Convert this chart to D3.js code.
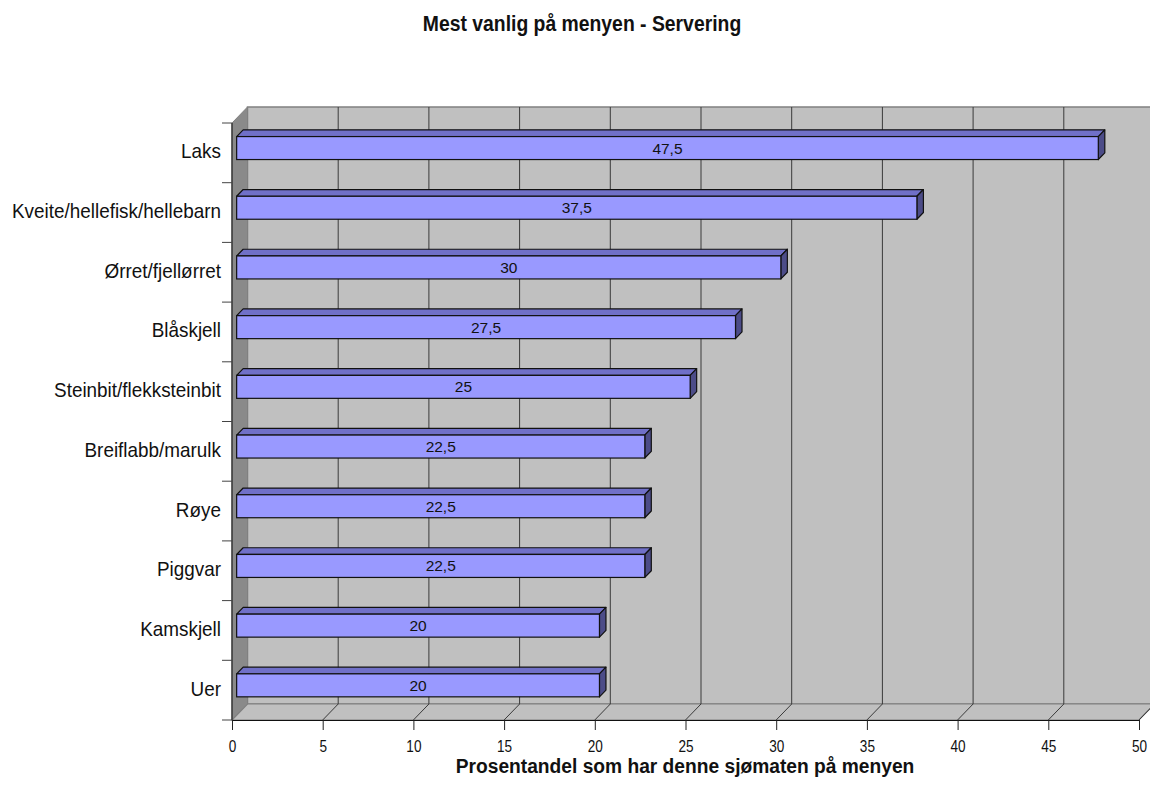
<!DOCTYPE html>
<html>
<head>
<meta charset="utf-8">
<script src="https://cdn.jsdelivr.net/npm/d3@7"></script>
<style>
  body { margin: 0; background: #fff; }
  svg text { font-family: "Liberation Sans", Arial, sans-serif; fill: #111; }
</style>
</head>
<body>
<svg id="chart" width="1150" height="805"></svg>
<script>
// Seafood types and share of menus (%)
const categories = [
  "Laks", "Kveite/hellefisk/hellebarn", "Ørret/fjellørret", "Blåskjell",
  "Steinbit/flekksteinbit", "Breiflabb/marulk", "Røye", "Piggvar", "Kamskjell", "Uer"
];
const values = [47.5, 37.5, 30, 27.5, 25, 22.5, 22.5, 22.5, 20, 20];
const tickValues = [0, 5, 10, 15, 20, 25, 30, 35, 40, 45, 50];

const titleText = "Mest vanlig på menyen - Servering";
const xTitleText = "Prosentandel som har denne sjømaten på menyen";

const svg = d3.select("#chart");

// front plane geometry and 3D depth offset
const plotLeft = 232, plotRight = 1139, plotTop = 123, plotBottom = 720;
const depthX = 15.5, depthY = -16;

const x = d3.scaleLinear().domain([0, 50]).range([plotLeft, plotRight]);
const y = d3.scaleBand().domain(categories).range([plotTop, plotBottom]).padding(0);

const fmt = v => String(v).replace(".", ",");

// Title (slightly condensed type)
svg.append("text")
  .attr("transform", "translate(582,31) scale(0.88,1)")
  .attr("text-anchor", "middle")
  .attr("font-size", 22).attr("font-weight", "bold")
  .text(titleText);

const g = svg.append("g");

// back wall
g.append("rect")
  .attr("x", plotLeft + depthX).attr("y", plotTop + depthY)
  .attr("width", plotRight - plotLeft).attr("height", plotBottom - plotTop)
  .attr("fill", "#c0c0c0").attr("stroke", "#808080").attr("stroke-width", 1.5);

// side wall
g.append("path")
  .attr("d", `M${plotLeft},${plotTop} L${plotLeft + depthX},${plotTop + depthY} L${plotLeft + depthX},${plotBottom + depthY} L${plotLeft},${plotBottom} Z`)
  .attr("fill", "#8a8a8a").attr("stroke", "#808080").attr("stroke-width", 1);

// floor
g.append("path")
  .attr("d", `M${plotLeft},${plotBottom} L${plotLeft + depthX},${plotBottom + depthY} L${plotRight + depthX},${plotBottom + depthY} L${plotRight},${plotBottom} Z`)
  .attr("fill", "#c0c0c0").attr("stroke", "#808080").attr("stroke-width", 1.2);

// gridlines on back wall and floor
tickValues.filter(t => t > 0).forEach(t => {
  const bx = x(t) + depthX;
  g.append("line")
    .attr("x1", bx).attr("x2", bx)
    .attr("y1", plotTop + depthY).attr("y2", plotBottom + depthY)
    .attr("stroke", "#3a3a3a").attr("stroke-width", 1);
  g.append("line")
    .attr("x1", bx).attr("y1", plotBottom + depthY)
    .attr("x2", x(t)).attr("y2", plotBottom)
    .attr("stroke", "#3a3a3a").attr("stroke-width", 1);
});

// front edge of the side wall
g.append("line").attr("x1", plotLeft).attr("x2", plotLeft).attr("y1", plotTop).attr("y2", plotBottom)
  .attr("stroke", "#222").attr("stroke-width", 1.2);

// bars (3D boxes)
const d0 = 0.3, d1 = 0.72;               // depth of bar front and back faces
const barH = y.bandwidth() * 0.385;

const bars = g.append("g").selectAll("g").data(categories).enter().append("g");
bars.each(function(c, i) {
  const v = values[i];
  const cy = y(c) + y.bandwidth() / 2;
  const fx0 = x(0) + d0 * depthX, fx1 = x(v) + d0 * depthX;
  const fy0 = cy - barH / 2 + d0 * depthY, fy1 = cy + barH / 2 + d0 * depthY;
  const ox = (d1 - d0) * depthX, oy = (d1 - d0) * depthY;
  const sel = d3.select(this);
  // top face
  sel.append("path")
    .attr("d", `M${fx0},${fy0} L${fx0 + ox},${fy0 + oy} L${fx1 + ox},${fy0 + oy} L${fx1},${fy0} Z`)
    .attr("fill", "#7070c8").attr("stroke", "#111").attr("stroke-width", 1.2).attr("stroke-linejoin", "round");
  // side face
  sel.append("path")
    .attr("d", `M${fx1},${fy0} L${fx1 + ox},${fy0 + oy} L${fx1 + ox},${fy1 + oy} L${fx1},${fy1} Z`)
    .attr("fill", "#4c4c88").attr("stroke", "#111").attr("stroke-width", 1.2).attr("stroke-linejoin", "round");
  // front face
  sel.append("rect")
    .attr("x", fx0).attr("y", fy0).attr("width", fx1 - fx0).attr("height", fy1 - fy0)
    .attr("fill", "#9999ff").attr("stroke", "#111").attr("stroke-width", 1.2);
  // value label
  sel.append("text")
    .attr("x", (fx0 + fx1) / 2).attr("y", (fy0 + fy1) / 2 + 5.5)
    .attr("text-anchor", "middle").attr("font-size", 15.5)
    .text(fmt(v));
});

// x axis
const xAxis = d3.axisBottom(x).tickValues(tickValues).tickSize(10).tickPadding(10)
  .tickFormat(d => fmt(d));
const xg = svg.append("g").attr("transform", `translate(0,${plotBottom})`).call(xAxis);
xg.select(".domain").attr("stroke", "#111").attr("stroke-width", 1.2)
  .attr("d", `M${plotLeft},0.5H${plotRight}`);
xg.selectAll(".tick line").attr("stroke", "#222");
xg.selectAll(".tick text")
  .attr("font-size", 17).attr("fill", "#111")
  .attr("transform", "scale(0.8,1)")
  .attr("font-family", "'Liberation Sans', Arial, sans-serif");

// y axis ticks at band boundaries
const bounds = categories.map(c => y(c)).concat([plotBottom]);
svg.append("g").selectAll("line").data(bounds).enter().append("line")
  .attr("x1", plotLeft - 10).attr("x2", plotLeft)
  .attr("y1", d => d).attr("y2", d => d)
  .attr("stroke", "#444").attr("stroke-width", 1);

// category labels
svg.append("g").selectAll("text").data(categories).enter().append("text")
  .attr("transform", c => `translate(221,${y(c) + y.bandwidth() / 2 + 5.5}) scale(0.9,1)`)
  .attr("text-anchor", "end").attr("font-size", 21)
  .text(c => c);

// x axis title
svg.append("text")
  .attr("transform", "translate(685,773) scale(0.96,1)")
  .attr("text-anchor", "middle")
  .attr("font-size", 20).attr("font-weight", "bold")
  .text(xTitleText);
</script>
</body>
</html>
